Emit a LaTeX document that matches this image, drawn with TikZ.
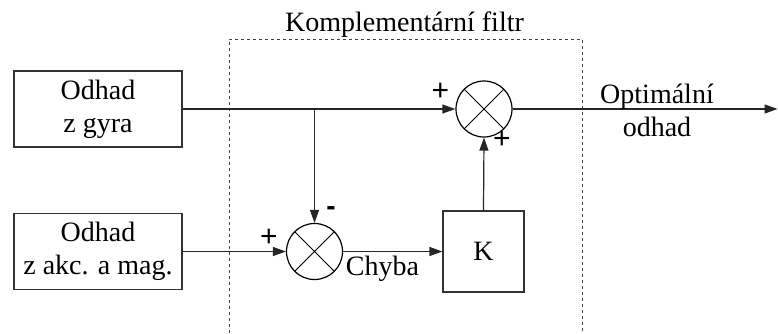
\documentclass[tikz,border=0pt]{standalone}
\usepackage{fontspec}
\setmainfont{Liberation Serif}
\newfontfamily\signfont{Liberation Sans}
\usetikzlibrary{arrows.meta}
\begin{document}
\begin{tikzpicture}[x=1pt,y=-1pt,
  every node/.style={font=\fontsize{28}{33}\selectfont, inner sep=0pt},
  blockbox/.style={draw=black!80, line width=1.2pt, minimum width=168pt, minimum height=76pt, align=center},
  kbox/.style={draw=black!80, line width=1.2pt, minimum width=81pt, minimum height=81pt},
  sumnode/.style={draw, circle, line width=1.2pt, minimum size=56pt,
    path picture={\draw[line width=1pt] (path picture bounding box.south west) -- (path picture bounding box.north east)
                                        (path picture bounding box.north west) -- (path picture bounding box.south east);}},
  conn/.style={draw=black!85, line width=1.2pt, -{Triangle[length=13pt,width=9pt]}},
  frame/.style={draw=black!75, line width=1pt, dash pattern=on 3pt off 3pt},
  signlabel/.style={font=\signfont\fontsize{30}{30}\selectfont},
  minuslabel/.style={font=\signfont\bfseries\fontsize{28}{28}\selectfont}
]
\useasboundingbox (0,0) rectangle (778,333);
% frame
\draw[frame] (229,333) -- (229,39) -- (582,39) -- (582,333);
\node[anchor=base] (title) at (404.5,31.5) {Komplementární filtr};
% blocks
\node[blockbox] (gyro) at (98,109) {Odhad\\z gyra};
\node[blockbox] (acc) at (98,251.5) {Odhad\\z akc. a mag.};
\node[sumnode] (s1) at (484,109) {};
\node[sumnode] (s2) at (314.5,251.5) {};
\node[kbox] (k) at (483.5,251.5) {K};
\coordinate (br) at (314.5,109);
\coordinate (out) at (777.5,109);
% connectors
\draw[conn] (gyro.east) -- (s1.west);
\draw[conn] (br) -- (s2.north);
\draw[conn] (acc.east) -- (s2.west);
\draw[conn] (s2.east) -- (k.west);
\draw[conn] (k.north) -- (s1.south);
\draw[conn] (s1.east) -- (out);
% labels
\node[align=center] (outlabel) at (657,110) {Optimální\\odhad};
\node[anchor=base] (chyba) at (382.5,275) {Chyba};
\node[signlabel] (p1) at (440.5,92) {+};
\node[signlabel] (p2) at (502,140) {+};
\node[signlabel] (p3) at (269,237.5) {+};
\node[minuslabel] (m) at (331,211) {-};
\end{tikzpicture}
\end{document}
